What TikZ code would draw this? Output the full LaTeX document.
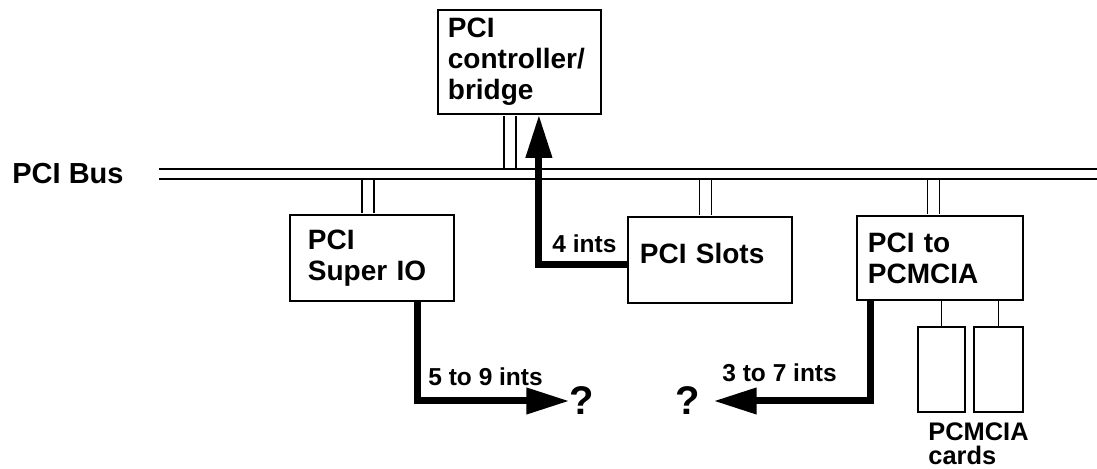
\documentclass[tikz,border=0pt]{standalone}
\usepackage{fontspec}
\setmainfont{Liberation Sans}
\usetikzlibrary{arrows.meta, positioning}

\begin{document}
\begin{tikzpicture}[x=0.5pt, y=-0.5pt,
    box/.style={draw, line width=0.9pt, anchor=north west, align=left, minimum height=43pt, inner ysep=0pt, font=\fontsize{14}{15.5}\selectfont\bfseries},
    card/.style={draw, line width=0.9pt, anchor=north west, minimum height=42.5pt, inner sep=0pt},
    stub/.style={double, double distance=5.2pt, line width=0.8pt, shorten <=0.45pt, shorten >=0.45pt},
    bus/.style={double, double distance=4.2pt, line width=0.8pt},
    ints/.style={line width=3.5pt, -{Triangle[length=21.5pt, width=12.5pt]}},
    lbl/.style={anchor=base west, inner sep=0pt, font=\fontsize{12.25}{14}\selectfont\bfseries},
    qmark/.style={inner sep=0pt, font=\fontsize{20}{22}\selectfont\bfseries}]
    \useasboundingbox (0,0) rectangle (1097,469);

    % Bus
    \node[anchor=west, inner sep=0pt, font=\fontsize{14.5}{16}\selectfont\bfseries] (buslabel) at (12,174) {PCI Bus};
    \coordinate (busend) at (1097,174);
    \coordinate (busT) at (0,169);
    \coordinate (busB) at (0,179);

    % Boxes on the bus
    \node[box, minimum height=52pt, inner xsep=5pt, text width=71.5pt] (bridge) at (437,9) {PCI\\controller/\\bridge};
    \node[box, inner xsep=9pt, text width=64pt] (superio) at (289,214) {PCI\\Super IO};
    \node[box, inner xsep=6pt, text width=70pt, text depth=7pt] (slots) at (627,216) {PCI Slots};
    \node[box, minimum height=42pt, inner xsep=5.5pt, text width=72pt] (pcmcia) at (856,215) {PCI to\\PCMCIA};

    % Cards
    \node[card, minimum width=23.5pt] (cardA) at (917,326) {};
    \node[card, minimum width=24.5pt] (cardB) at (973,326) {};
    \node[anchor=north west, align=left, inner sep=0pt, font=\fontsize{12.7}{12.2}\selectfont\bfseries] (cardtxt) at (928,422) {PCMCIA\\cards};
    \draw[line width=0.9pt] (cardA.north) -- (cardA.north |- pcmcia.south);
    \draw[line width=0.9pt] (cardB.north) -- (cardB.north |- pcmcia.south);

    % Stubs and bus lines
    \draw[stub] ([xshift=-4.75pt]bridge.south) -- ([xshift=-4.75pt]bridge.south |- busT);
    \draw[stub] ([xshift=-2pt]superio.north) -- ([xshift=-2pt]superio.north |- busB);
    \draw[stub] ([xshift=-2.25pt]slots.north) -- ([xshift=-2.25pt]slots.north |- busB);
    \draw[stub] ([xshift=-3.25pt]pcmcia.north) -- ([xshift=-3.25pt]pcmcia.north |- busB);
    \draw[bus] ([xshift=17.5pt]buslabel.east) -- (busend);

    % Interrupt lines
    \node[qmark] (qA) at (582,401) {?};
    \node[qmark] (qB) at (688,401) {?};
    \draw[ints] ([yshift=-2.5pt]slots.west) -| ([xshift=9.75pt]bridge.south);
    \draw[ints] ([xshift=23pt]superio.south) |- (qA.west);
    \draw[ints, shorten >=6.5pt] ([xshift=7pt]pcmcia.south west) |- (qB.east);
    \node[lbl] (fourints) at (552,253) {4 ints};
    \node[lbl] (fivenine) at (428,386) {5 to 9 ints};
    \node[lbl] (threeseven) at (722,382) {3 to 7 ints};
\end{tikzpicture}
\end{document}
